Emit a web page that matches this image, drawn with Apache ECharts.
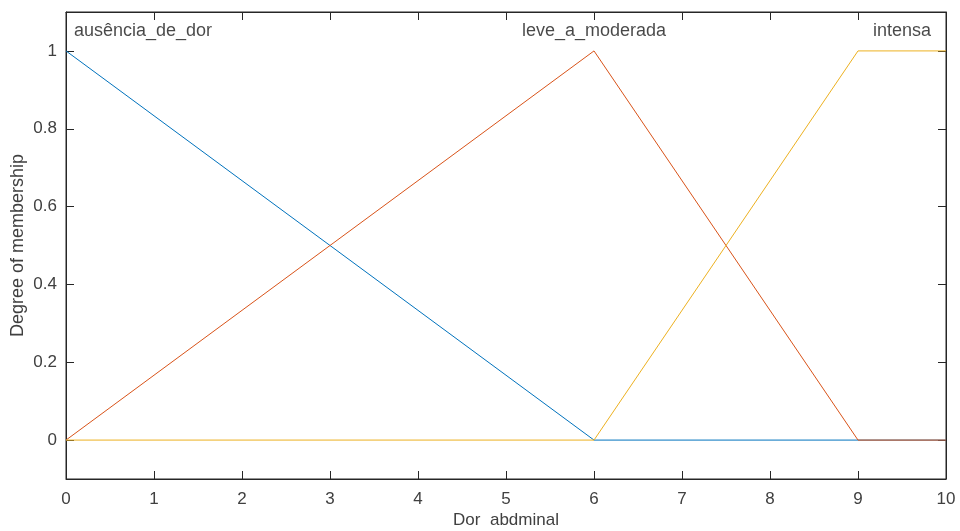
<!DOCTYPE html>
<html><head><meta charset="utf-8">
<script src="https://cdn.jsdelivr.net/npm/echarts@6/dist/echarts.min.js"></script>
<style>html,body{margin:0;padding:0;background:#fff}#c{width:960px;height:531px}</style>
</head><body><div id="c"></div>
<script>
var xTicks = [0,1,2,3,4,5,6,7,8,9,10];
var yTicks = [0,0.2,0.4,0.6,0.8,1];
var ausencia = [[0,1],[6,0],[10,0]];
var leve = [[0,0],[6,1],[9,0],[10,0]];
var intensa = [[0,0],[6,0],[9,1],[10,1]];
var mfNames = ['ausência_de_dor','leve_a_moderada','intensa'];
var mfLabelX = [0,6,9.5];
var mfLabelY = 1.05;
var xName = 'Dor  abdminal';
var yName = 'Degree of membership';

var font = 'Liberation Sans, Arial, sans-serif';
var txt = '#404040';
var axisCol = '#262626';
var fs = 17;

function lineSeries(name, data, color){
  return {name:name,type:'line',data:data,symbol:'none',animation:false,
    lineStyle:{color:color,width:1},itemStyle:{color:color},z:2};
}
var chart = echarts.init(document.getElementById('c'),null,{renderer:'canvas'});
chart.setOption({
  backgroundColor:'#fff',
  animation:false,
  grid:{left:66,right:14,top:12,bottom:52,show:true,borderColor:axisCol,borderWidth:1,containLabel:false,outerBoundsMode:'none'},
  xAxis:[{type:'value',min:0,max:10,interval:1,position:'bottom',
    name:xName,nameLocation:'middle',nameGap:33,nameMoveOverlap:false,nameTextStyle:{fontFamily:font,fontSize:fs,color:txt},
    axisLine:{show:true,onZero:false,lineStyle:{color:axisCol}},
    axisTick:{show:true,inside:true,length:8,lineStyle:{color:axisCol}},
    axisLabel:{fontFamily:font,fontSize:fs,color:txt,margin:12},
    splitLine:{show:false}},
   {type:'value',min:0,max:10,interval:1,position:'top',
    axisLine:{show:true,onZero:false,lineStyle:{color:axisCol}},
    axisTick:{show:true,inside:true,length:8,lineStyle:{color:axisCol}},
    axisLabel:{show:false},splitLine:{show:false}}],
  yAxis:[{type:'value',min:-0.1,max:1.1,position:'left',
    name:yName,nameLocation:'middle',nameGap:39,nameMoveOverlap:false,nameRotate:90,nameTextStyle:{fontFamily:font,fontSize:18,color:txt},
    axisLine:{show:true,onZero:false,lineStyle:{color:axisCol}},
    axisTick:{show:true,inside:true,length:8,customValues:yTicks,lineStyle:{color:axisCol}},
    axisLabel:{fontFamily:font,fontSize:fs,color:txt,margin:9,customValues:yTicks,formatter:function(v){return String(Math.round(v*10)/10);}},
    splitLine:{show:false}},
   {type:'value',min:-0.1,max:1.1,position:'right',
    axisLine:{show:true,onZero:false,lineStyle:{color:axisCol}},
    axisTick:{show:true,inside:true,length:8,customValues:yTicks,lineStyle:{color:axisCol}},
    axisLabel:{show:false},splitLine:{show:false}}],
  series:[
    lineSeries(mfNames[0],ausencia,'#0072BD'),
    lineSeries(mfNames[1],leve,'#D95319'),
    lineSeries(mfNames[2],intensa,'#EDB120'),
    {type:'scatter',symbolSize:0,animation:false,silent:true,
     data:mfNames.map(function(n,i){return {value:[mfLabelX[i],mfLabelY],name:n,
       label:{show:true,formatter:n,position:i===0?'right':'inside',offset:i===0?[3,0]:[0,0],
         fontFamily:font,fontSize:18,color:'#1a1a1a'}};})}
  ]
});
</script></body></html>
